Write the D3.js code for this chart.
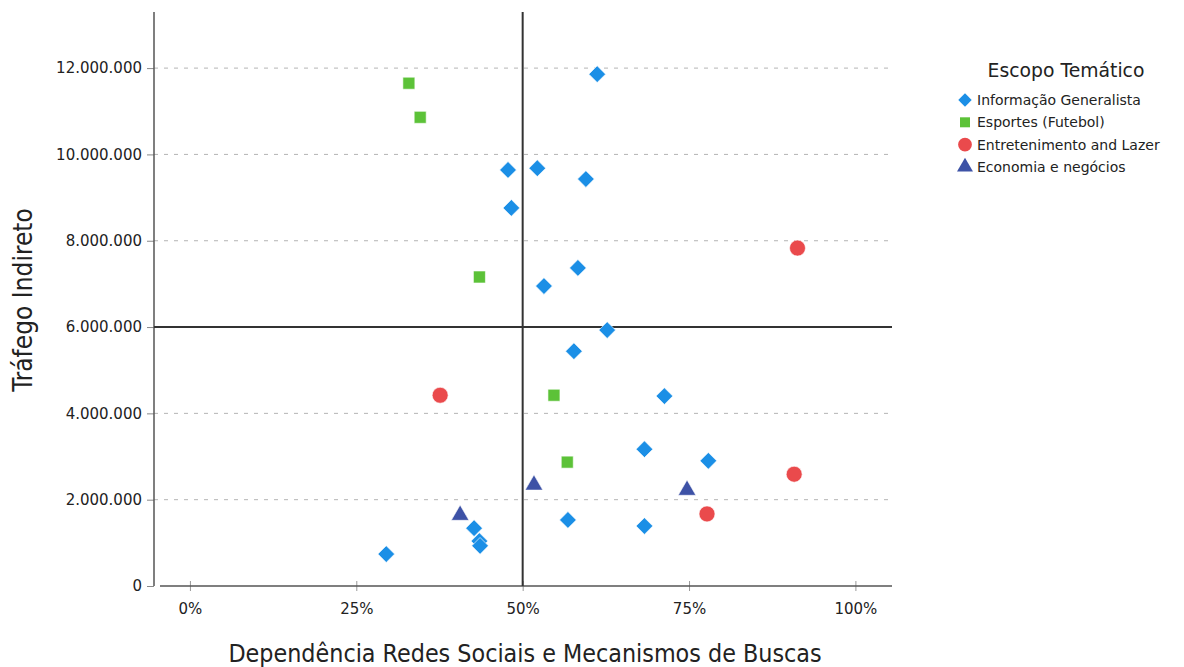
<!DOCTYPE html>
<html><head><meta charset="utf-8">
<script src="https://cdn.jsdelivr.net/npm/d3@7"></script>
<style>body{margin:0;background:#fff}svg{display:block}</style>
</head><body>
<svg id="c" width="1184" height="667"></svg>
<script>
const categories = ["Informação Generalista","Esportes (Futebol)","Entretenimento and Lazer","Economia e negócios"];
const infoX = [61.2,47.8,52.2,59.5,48.3,58.3,53.2,62.7,57.7,71.3,68.3,77.9,56.8,68.3,42.7,43.5,43.6,29.5];
const infoY = [11.86,9.64,9.68,9.43,8.76,7.37,6.95,5.93,5.44,4.40,3.17,2.90,1.53,1.39,1.34,1.04,0.93,0.74];
const esportesX = [32.9,34.6,43.5,54.7,56.7];
const esportesY = [11.65,10.86,7.16,4.42,2.87];
const entretX = [91.3,37.6,90.8,77.7];
const entretY = [7.83,4.42,2.59,1.67];
const economiaX = [40.6,51.7,74.7];
const economiaY = [1.64,2.34,2.22];
const xTicks = [0,25,50,75,100];
const yTicks = [0,2,4,6,8,10,12];
const refX = 50, refY = 6;

const colors = ["#1b8fe6","#5cc238","#ea4a4c","#3d52a6"];
const shapes = ["diamond","square","circle","triangle"];
const series = [[infoX,infoY],[esportesX,esportesY],[entretX,entretY],[economiaX,economiaY]];

const svg = d3.select("#c");
const L=154, R=892, T=12, B=586;
const x = d3.scaleLinear().domain([-5.4,105.5]).range([L,R]);
const y = d3.scaleLinear().domain([0,13.3]).range([B,T]);
const fmt = v => v===0 ? "0" : d3.format(",")(v*1e6).replace(/,/g,".");

// gridlines
svg.append("g").selectAll("line").data(yTicks.filter(v=>v>0 && v!==refY)).join("line")
  .attr("x1",L).attr("x2",R).attr("y1",d=>y(d)).attr("y2",d=>y(d))
  .attr("stroke","#b4b4b4").attr("stroke-width",1).attr("stroke-dasharray","4,6");

// axes
const ya = svg.append("g").attr("transform",`translate(${L},0)`)
  .call(d3.axisLeft(y).tickValues(yTicks).tickFormat(fmt).tickSize(7).tickPadding(5));
ya.select(".domain").remove();
ya.append("line").attr("x1",0).attr("x2",0).attr("y1",T).attr("y2",B).attr("stroke","#555").attr("stroke-width",1.5);
ya.selectAll(".tick line").attr("stroke","#888");
ya.selectAll("text").attr("font-family","DejaVu Sans").attr("font-size","15px").attr("fill","#222");

const xa = svg.append("g").attr("transform",`translate(0,${B})`)
  .call(d3.axisBottom(x).tickValues(xTicks).tickFormat(d=>d+"%").tickSize(5).tickPadding(12));
xa.select(".domain").remove();
xa.append("line").attr("x1",L+6).attr("x2",R).attr("y1",0).attr("y2",0).attr("stroke","#555").attr("stroke-width",1.5);
xa.selectAll(".tick line").attr("y1",-5).attr("stroke","#999");
xa.selectAll("text").attr("font-family","DejaVu Sans").attr("font-size","15px").attr("fill","#222");

// reference lines
svg.append("line").attr("x1",x(refX)).attr("x2",x(refX)).attr("y1",T).attr("y2",B).attr("stroke","#333").attr("stroke-width",2);
svg.append("line").attr("x1",L).attr("x2",R).attr("y1",y(refY)).attr("y2",y(refY)).attr("stroke","#333").attr("stroke-width",2);

function sym(shape){
  if(shape==="diamond") return d3.symbol().type(d3.symbolSquare).size(140)();
  if(shape==="square") return d3.symbol().type(d3.symbolSquare).size(144)();
  if(shape==="circle") return d3.symbol().type(d3.symbolCircle).size(200)();
  return d3.symbol().type(d3.symbolTriangle).size(135)();
}
function rot(shape){ return shape==="diamond" ? " rotate(45)" : ""; }

series.forEach(([xs,ys],i)=>{
  svg.append("g").selectAll("path").data(xs.map((v,j)=>[v,ys[j]])).join("path")
    .attr("d",sym(shapes[i]))
    .attr("transform",d=>`translate(${x(d[0])},${y(d[1])})${rot(shapes[i])}`)
    .attr("fill",colors[i]).attr("stroke","#fff").attr("stroke-width",0.6);
});

// axis titles
const titleFont = "DejaVu Sans Condensed, DejaVu Sans, sans-serif";
svg.append("text").attr("x",525).attr("y",662).attr("text-anchor","middle")
  .attr("font-family",titleFont).attr("font-size","24.8px").attr("fill","#222")
  .text("Dependência Redes Sociais e Mecanismos de Buscas");
svg.append("text").attr("transform","translate(32,300) rotate(-90)").attr("text-anchor","middle")
  .attr("font-family",titleFont).attr("font-size","26px").attr("fill","#222")
  .text("Tráfego Indireto");

// legend
const lg = svg.append("g");
lg.append("text").attr("x",1066).attr("y",77).attr("text-anchor","middle")
  .attr("font-family","DejaVu Sans").attr("font-size","18.8px").attr("fill","#222").text("Escopo Temático");
categories.forEach((c,i)=>{
  const yy = 100 + i*22.3;
  lg.append("path").attr("d",d3.symbol().type(shapes[i]==="circle"?d3.symbolCircle:shapes[i]==="triangle"?d3.symbolTriangle:d3.symbolSquare).size(shapes[i]==="diamond"?90:shapes[i]==="circle"?150:shapes[i]==="triangle"?110:100)())
    .attr("transform",`translate(965,${yy})${rot(shapes[i])}`).attr("fill",colors[i]);
  lg.append("text").attr("x",977).attr("y",yy+5).attr("font-family","DejaVu Sans").attr("font-size","14px").attr("fill","#222").text(c);
});
</script>
</body></html>
